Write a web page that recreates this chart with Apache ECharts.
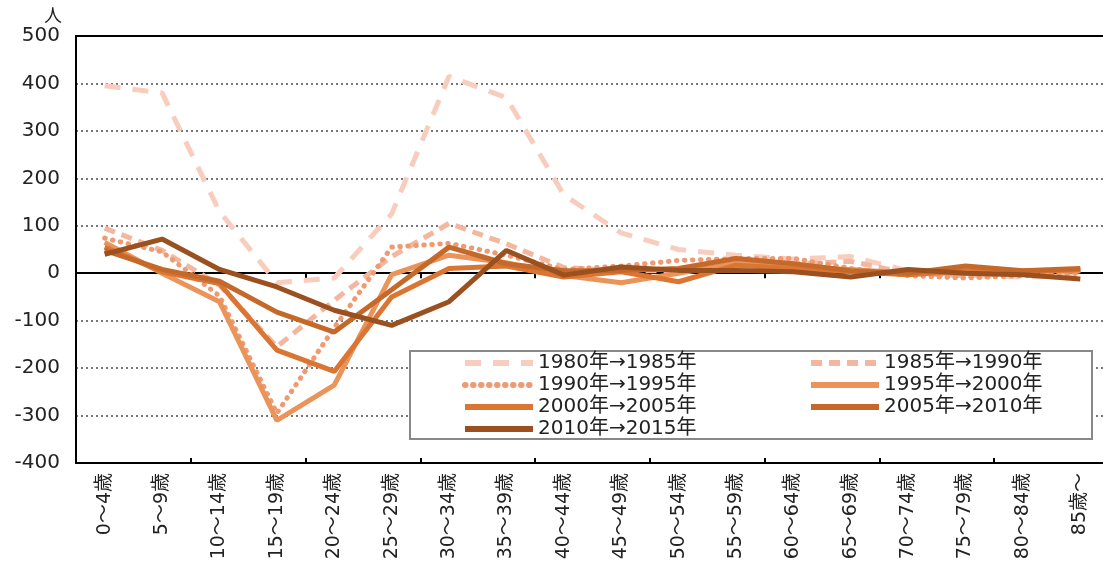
<!DOCTYPE html>
<html lang="ja">
<head>
    <meta charset="UTF-8">
    <title>年齢別純移動数</title>
    <style>
        html, body { margin: 0; padding: 0; background: #fff; }
        #chart { width: 1103px; height: 565px; }
    </style>
</head>
<body>
    <div id="chart"></div>
    <script src="https://cdn.jsdelivr.net/npm/echarts@6/dist/echarts.min.js"></script>
    <script>
        var ageGroups = ['0～4歳','5～9歳','10～14歳','15～19歳','20～24歳','25～29歳','30～34歳','35～39歳','40～44歳',
                         '45～49歳','50～54歳','55～59歳','60～64歳','65～69歳','70～74歳','75～79歳','80～84歳','85歳～'];

        var names = ['1980年→1985年','1985年→1990年','1990年→1995年','1995年→2000年','2000年→2005年','2005年→2010年','2010年→2015年'];

        var v1980 = [395, 380, 130, -20, -10, 125, 415, 370, 165, 85, 50, 38, 30, 35, 5, -5, -8, -5];
        var v1985 = [95, 48, -25, -155, -57, 35, 105, 62, 12, 5, 5, 15, 20, 25, 0, -5, 0, 5];
        var v1990 = [74, 45, -48, -295, -115, 55, 63, 38, 8, 15, 27, 31, 31, 10, -5, -10, -5, 0];
        var v1995 = [65, 0, -60, -310, -236, -3, 38, 22, -5, -20, 0, 21, 12, 8, 0, 0, 5, 5];
        var v2000 = [55, 3, -22, -162, -207, -50, 10, 15, -8, 3, -18, 17, 10, 3, -3, 5, 3, 8];
        var v2005 = [48, 8, -17, -82, -124, -35, 55, 20, 5, 6, 10, 31, 20, 5, 0, 15, 5, 10];
        var v2010 = [40, 72, 8, -29, -78, -110, -60, 48, -4, 13, 6, 6, 3, -8, 8, 0, -3, -12];

        var yTicks = [-400, 500, 100];   // min, max, step

        var font = '"DejaVu Sans", "Noto Sans CJK JP", sans-serif';

        var styles = [
            { color: '#F8CDBE', type: [16, 12], cap: 'butt' },
            { color: '#F3B79F', type: [11, 7], cap: 'butt' },
            { color: '#EE9A72', type: [0.5, 7.5], cap: 'round' },
            { color: '#EA9459', type: 'solid', cap: 'butt' },
            { color: '#DB7533', type: 'solid', cap: 'butt' },
            { color: '#C5692B', type: 'solid', cap: 'butt' },
            { color: '#9B5020', type: 'solid', cap: 'butt' }
        ];
        var values = [v1980, v1985, v1990, v1995, v2000, v2005, v2010];

        var series = values.map(function (d, i) {
            return {
                name: names[i],
                type: 'line',
                data: d,
                symbol: 'none',
                xAxisIndex: 0,
                color: styles[i].color,
                lineStyle: {
                    color: styles[i].color,
                    width: 5,
                    type: styles[i].type,
                    cap: styles[i].cap
                }
            };
        });

        var legendText = { fontSize: 20, color: '#222', fontFamily: font, lineHeight: 20 };

        var option = {
            animation: false,
            backgroundColor: '#fff',
            grid: {
                left: 76, top: 36, right: -6, bottom: 102,
                show: true, borderColor: '#000', borderWidth: 2,
                outerBoundsMode: 'none'
            },
            legend: [
                {
                    data: [names[0], names[2], names[4], names[6]],
                    orient: 'vertical', left: 462, top: 353,
                    itemWidth: 68, itemHeight: 12, itemGap: 2,
                    padding: 0, textStyle: legendText,
                    itemStyle: { opacity: 0 },
                    lineStyle: { width: 6 }
                },
                {
                    data: [names[1], names[3], names[5]],
                    orient: 'vertical', left: 808, top: 353,
                    itemWidth: 68, itemHeight: 12, itemGap: 2,
                    padding: 0, textStyle: legendText,
                    itemStyle: { opacity: 0 },
                    lineStyle: { width: 6 }
                }
            ],
            graphic: [{
                type: 'rect', left: 409, top: 350, z: 3,
                shape: { width: 682, height: 88 },
                style: { fill: '#fff', stroke: '#888', lineWidth: 2 }
            }],
            xAxis: [
                {
                    type: 'category', data: ageGroups, position: 'bottom',
                    axisLine: { show: false, onZero: false },
                    axisTick: { show: false },
                    axisLabel: { interval: 0, rotate: 90, fontSize: 19, margin: 10, color: '#222', fontFamily: font }
                },
                {
                    type: 'category', data: ageGroups, position: 'bottom',
                    axisLine: { onZero: true, lineStyle: { color: '#000', width: 2 } },
                    axisTick: { show: true, length: 5, lineStyle: { color: '#000', width: 2 } },
                    axisLabel: { show: false }
                },
                {
                    type: 'category', data: ageGroups, position: 'bottom',
                    axisLine: { show: false, onZero: true },
                    axisTick: { show: true, inside: true, length: 5, lineStyle: { color: '#000', width: 2 } },
                    axisLabel: { show: false }
                }
            ],
            yAxis: {
                type: 'value',
                min: yTicks[0], max: yTicks[1], interval: yTicks[2],
                name: '人',
                nameGap: 7,
                nameTextStyle: { fontSize: 18, color: '#222', align: 'right', padding: [0, 14, 0, 0], fontFamily: font },
                axisLine: { show: true, lineStyle: { color: '#000', width: 2 } },
                axisTick: { show: false },
                axisLabel: { fontSize: 20, color: '#222', margin: 16, fontFamily: font },
                splitLine: {
                    show: true, showMinLine: false, showMaxLine: false,
                    lineStyle: { color: '#777', width: 2, type: [2, 3] }
                }
            },
            series: series
        };

        var chart = echarts.init(document.getElementById('chart'));
        chart.setOption(option);
    </script>
</body>
</html>
